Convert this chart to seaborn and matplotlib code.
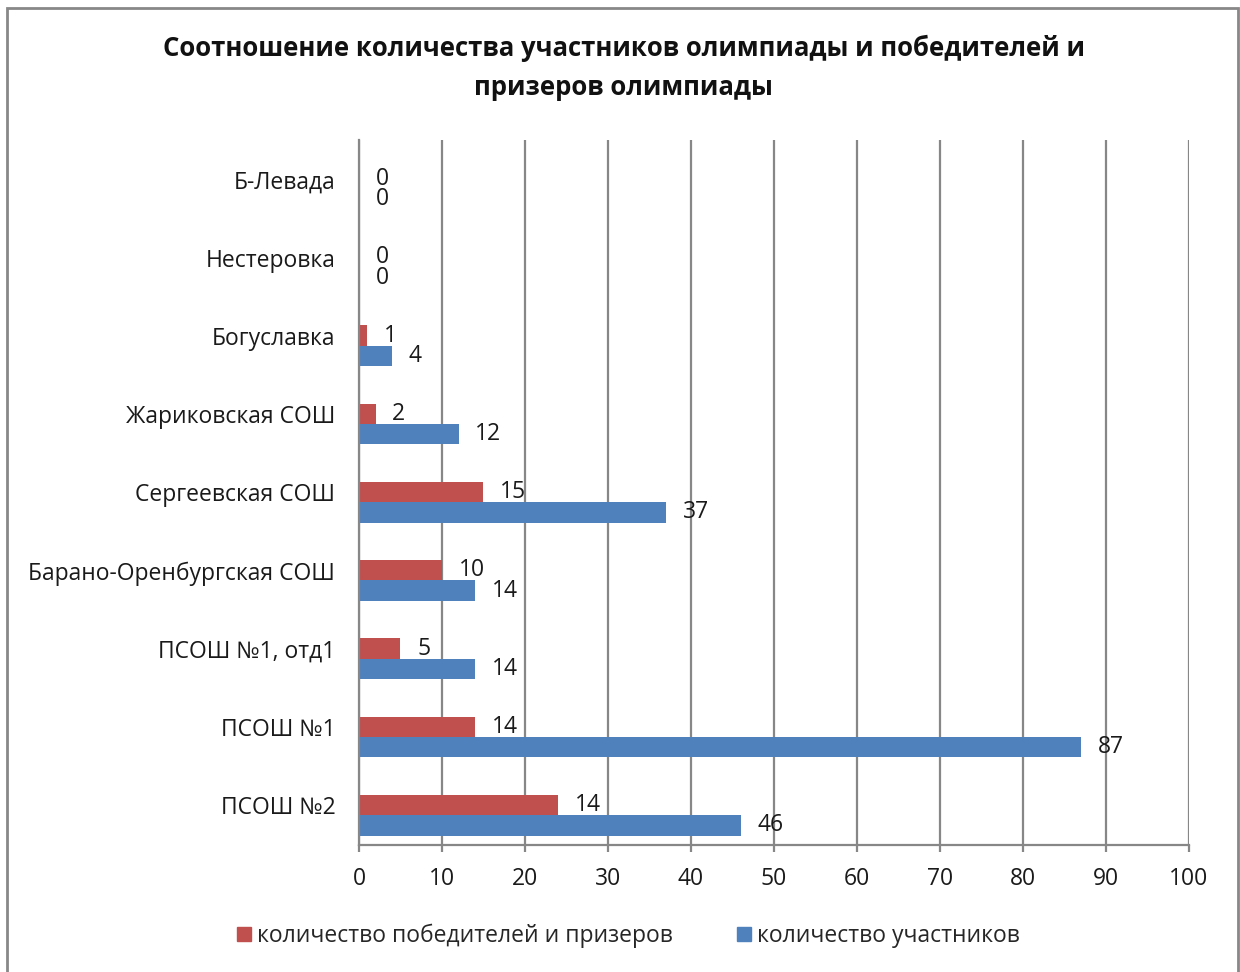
import pandas as pd
import matplotlib.pyplot as plt
import matplotlib.patches as mpatches
import matplotlib.transforms as mtransforms
from matplotlib.lines import Line2D
import seaborn as sns

# Data (top to bottom)
schools = ['Б-Левада', 'Нестеровка', 'Богуславка', 'Жариковская СОШ',
           'Сергеевская СОШ', 'Барано-Оренбургская СОШ', 'ПСОШ №1, отд1',
           'ПСОШ №1', 'ПСОШ №2']
winners = [0, 0, 1, 2, 15, 10, 5, 14, 24]
participants = [0, 0, 4, 12, 37, 14, 14, 87, 46]
# data labels as printed on the chart (ПСОШ №2 label differs from bar length)
winners_labels = ['0', '0', '1', '2', '15', '10', '5', '14', '14']
participants_labels = ['0', '0', '4', '12', '37', '14', '14', '87', '46']

series_names = ['количество победителей и призеров', 'количество участников']
colors = ['#C0504D', '#4F81BD']
title = 'Соотношение количества участников олимпиады и победителей и\nпризеров олимпиады'

df = pd.DataFrame({
    'school': schools * 2,
    'value': winners + participants,
    'series': [series_names[0]] * len(schools) + [series_names[1]] * len(schools),
})

sns.set_theme(style='white')
plt.rcParams['font.family'] = ['Open Sans', 'DejaVu Sans']

fig = plt.figure(figsize=(12.4, 9.72), dpi=100)
ax = fig.add_axes([0.2895, 0.1307, 0.6694, 0.7253])

sns.barplot(data=df, x='value', y='school', hue='series', order=schools,
            hue_order=series_names, palette=colors, width=0.52, ax=ax,
            legend=False, saturation=1, edgecolor='none')

ax.set_xlim(0, 100)
ax.set_ylim(8.38, -0.63)
ax.set_xticks(range(0, 101, 10))
ax.set_xlabel('')
ax.set_ylabel('')
ax.grid(axis='x', color='#878787', linewidth=1.6)
ax.grid(axis='y', visible=False)
ax.set_axisbelow(True)
for side in ['top', 'right']:
    ax.spines[side].set_visible(False)
for side in ['left', 'bottom']:
    ax.spines[side].set_color('#878787')
    ax.spines[side].set_linewidth(1.6)
ax.tick_params(axis='x', length=5, width=1.6, color='#878787', pad=11,
               labelsize=16.5, labelcolor='#1a1a1a', bottom=True)
ax.tick_params(axis='y', length=0, pad=17, labelsize=16.5, labelcolor='#1a1a1a')

# category labels sit level with the upper (red) bar, as in the original
shift = mtransforms.ScaledTranslation(0, 10 / 100, fig.dpi_scale_trans)
for lab in ax.get_yticklabels():
    lab.set_transform(lab.get_transform() + shift)

for cont, labs in zip(ax.containers, [winners_labels, participants_labels]):
    ax.bar_label(cont, labels=labs, padding=12, fontsize=16.5, color='#1a1a1a')

fig.text(0.503, 0.930, title, ha='center', va='center', fontsize=18.5,
         fontweight='bold', color='#111111', linespacing=1.6)

handles = [Line2D([], [], marker='s', linestyle='none', markersize=10,
                  color=c) for c in colors]
fig.legend(handles, series_names, loc='center', bbox_to_anchor=(0.505, 0.037),
           ncol=2, frameon=False, fontsize=16.5, handletextpad=0.05,
           columnspacing=2.6, handlelength=1.0)

fig.patches.append(mpatches.Rectangle((0.006, -0.02), 0.992, 1.012,
                                      transform=fig.transFigure, fill=False,
                                      edgecolor='#888888', linewidth=2))

fig.savefig('out.png', dpi=100)
